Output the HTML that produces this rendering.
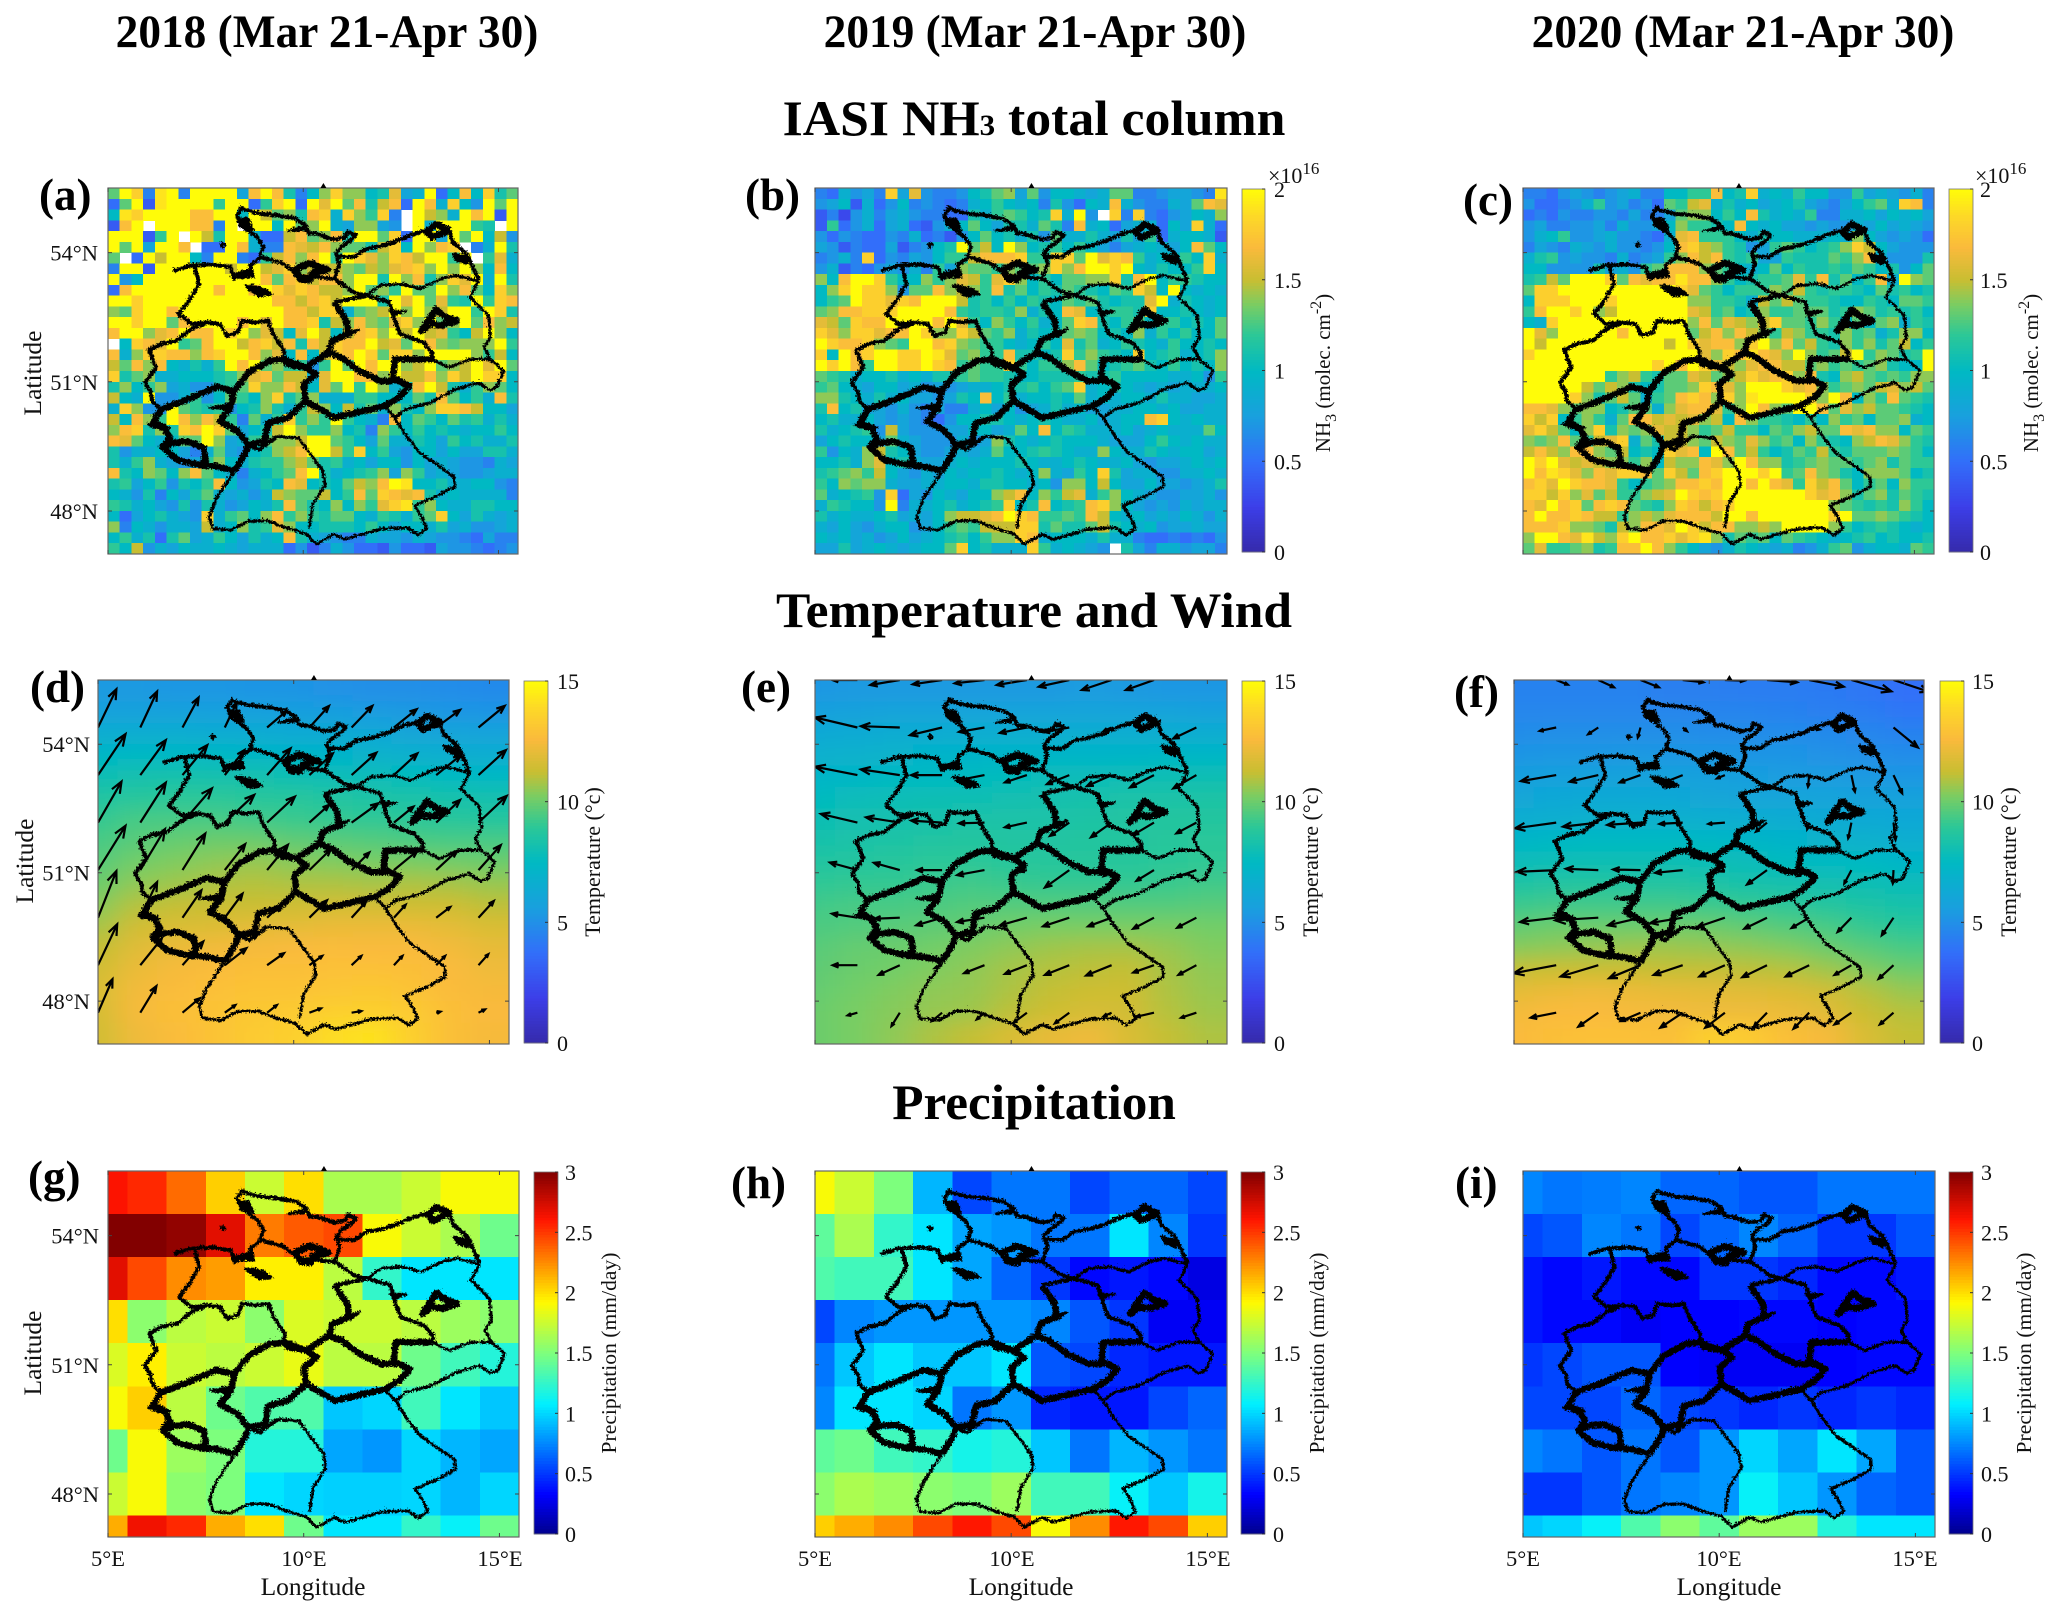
<!DOCTYPE html>
<html lang="en">
<head>
<meta charset="utf-8">
<title>NH3, temperature, wind and precipitation over Germany 2018-2020</title>
<style>
html,body{margin:0;padding:0;background:#fff;}
svg{display:block;}
text{font-family:"Liberation Serif",serif;fill:#111;}
.big{font-weight:bold;fill:#000;}
</style>
</head>
<body>
<svg id="figure" xmlns="http://www.w3.org/2000/svg" width="2067" height="1615" viewBox="0 0 2067 1615">
  <defs>
    <filter id="rough" x="-5%" y="-5%" width="110%" height="110%">
      <feTurbulence type="turbulence" baseFrequency="0.42" numOctaves="1" seed="3" result="t"/>
      <feDisplacementMap in="SourceGraphic" in2="t" scale="5" xChannelSelector="R" yChannelSelector="G"/>
    </filter>
    <filter id="smooth" x="-15%" y="-15%" width="130%" height="130%">
      <feGaussianBlur stdDeviation="14 9"/>
    </filter>
  </defs>
  <rect width="2067" height="1615" fill="#fff"/>
  <text class="big" font-size="47" text-anchor="middle" transform="translate(327,47) scale(0.965,1)">2018 (Mar 21-Apr 30)</text>
  <text class="big" font-size="47" text-anchor="middle" transform="translate(1035,47) scale(0.965,1)">2019 (Mar 21-Apr 30)</text>
  <text class="big" font-size="47" text-anchor="middle" transform="translate(1743,47) scale(0.965,1)">2020 (Mar 21-Apr 30)</text>
  <text class="big" font-size="50" text-anchor="middle" transform="translate(1034,135) scale(1.035,1)">IASI NH<tspan font-size="30">3</tspan> total column</text>
  <text class="big" font-size="50" text-anchor="middle" transform="translate(1034,627) scale(1.03,1)">Temperature and Wind</text>
  <text class="big" font-size="50" text-anchor="middle" transform="translate(1034,1119) scale(1.025,1)">Precipitation</text>
</svg>
<script>
/* ---------- shared tick labels ---------- */
const lonTicks = [5, 10, 15];
const latTicks = [54, 51, 48];
const nh3Ticks = [0, 0.5, 1, 1.5, 2];
const tempTicks = [0, 5, 10, 15];
const precipTicks = [0, 0.5, 1, 1.5, 2, 2.5, 3];

/* ---------- NH3 total column, units of 1e15 molec/cm2 (null = no data) ---------- */
const N = null;
const nh3_2018 = [
[13,20,18,6,19, 20,6,20,20,20, 20,8,17,20,17, 11,6,10,14,18, 14,14,10,11,16, 8,9,20,5,10, 17,10,18,11,13],
[5,13,20,4,19, 20,20,20,20,12, 20,20,5,12,18, 20,5,20,16,20, 13,17,11,15,17, 5,20,17,9,18, 10,7,20,13,20],
[10,19,18,20,20, 20,20,17,17,20, 20,10,20,15,13, 14,11,17,18,9, 18,14,12,18,6, N,20,15,14,9, 20,17,20,4,20],
[4,17,20,N,20, 20,20,17,17,6, 20,N,20,20,10, 20,13,14,20,9, 8,14,14,8,7, N,20,9,20,20, 20,12,11,N,20],
[20,20,20,4,12, 20,N,20,15,11, 20,20,9,5,5, 15,17,13,14,17, 11,20,20,13,18, 5,20,20,8,20, 13,20,10,15,7],
[20,13,20,8,20, 20,17,N,5,5, 20,17,9,6,6, 17,16,15,17,14, 13,13,11,15,18, 10,20,14,17,18, N,6,9,20,11],
[13,N,5,20,15, 20,20,10,6,20, 20,6,5,12,15, 17,14,17,20,12, 20,18,16,14,18, 17,15,20,20,12, 20,N,12,16,9],
[6,20,20,4,20, 20,20,20,20,20, 15,20,20,15,16, 18,14,15,15,15, 14,13,15,14,16, 17,18,14,20,14, 20,14,10,17,10],
[20,7,10,20,20, 20,20,20,20,20, 20,20,20,17,13, 17,18,15,17,17, 14,20,20,11,20, 14,17,11,14,18, 16,20,9,20,11],
[5,17,20,20,20, 20,20,20,20,17, 20,20,17,20,18, 16,18,17,15,15, 14,20,13,14,12, 20,13,13,20,14, 17,13,10,18,14],
[20,20,18,20,20, 20,20,20,20,20, 20,20,20,20,17, 17,15,17,18,15, 20,20,20,11,20, 16,20,13,16,12, 11,20,12,18,17],
[14,13,18,20,20, 17,20,20,20,20, 20,20,20,20,20, 17,17,15,18,18, 9,13,14,15,20, 14,20,14,15,20, 20,12,20,18,11],
[20,20,18,20,20, 13,17,20,20,20, 20,17,20,16,20, 17,17,18,11,15, 14,17,14,13,16, 18,14,20,13,14, 20,13,17,14,15],
[17,20,20,14,16, 17,20,17,17,20, 18,20,14,16,15, 10,16,20,15,10, 15,17,18,14,20, 15,20,15,16,12, 10,15,20,14,10],
[N,10,18,17,16, 20,12,13,17,20, 20,15,17,18,15, 17,11,17,15,18, 17,17,20,15,16, 13,20,17,14,13, 14,14,14,20,12],
[17,9,14,18,18, 17,17,14,17,18, 20,20,17,14,16, 10,17,10,15,18, 17,20,18,13,18, 18,14,20,20,20, 20,14,12,15,10],
[15,13,17,14,17, 10,9,11,9,12, 20,17,20,13,14, 12,12,7,12,20, 13,20,17,20,20, 14,15,20,13,14, 15,20,16,20,13],
[18,11,13,14,9, 9,10,10,10,11, 12,14,16,17,13, 15,15,9,16,20, 20,17,17,14,20, 15,15,17,14,18, 15,20,18,18,10],
[11,14,10,12,14, 8,9,7,7,11, 12,13,18,14,14, 17,15,10,16,13, 20,12,20,14,9, 11,17,20,15,11, 9,12,14,13,10],
[15,10,9,20,7, 7,9,12,7,10, 13,12,10,14,18, 11,13,14,9,9, 9,12,12,10,10, 10,13,11,17,13, 10,12,9,17,11],
[9,18,14,7,7, 20,13,12,11,12, 7,10,11,14,11, 9,12,15,14,10, 15,11,13,9,14, 11,10,14,18,18, 17,15,10,10,8],
[15,10,17,14,12, 20,17,14,17,15, 12,6,13,9,12, 18,12,14,12,20, 12,10,9,6,17, 10,13,12,10,13, 11,12,9,11,9],
[14,17,18,11,14, 11,18,17,20,18, 13,8,10,11,15, 20,14,12,12,14, 10,11,6,14,12, 10,12,10,11,10, 9,10,10,12,10],
[17,16,13,10,9, 10,13,13,20,14, 8,9,12,13,14, 14,15,20,20,13, 12,10,8,13,9, 9,11,10,8,12, 10,11,9,9,11],
[11,7,9,9,10, 10,8,6,9,13, 8,7,10,11,14, 15,17,20,20,15, 12,18,10,12,8, 7,10,10,8,10, 8,8,11,11,9],
[11,9,12,14,9, 8,7,8,12,14, 10,9,11,12,12, 14,15,13,11,12, 9,10,8,10,10, 7,10,8,9,8, 7,7,6,9,8],
[17,11,10,14,13, 10,14,17,13,10, 9,6,9,10,12, 13,17,20,11,9, 10,11,12,14,8, 14,12,8,9,8, 7,7,8,9,9],
[11,12,8,10,12, 7,11,10,12,17, 10,7,8,11,10, 17,16,10,11,10, 13,15,14,17,20, 19,10,10,11,9, 9,10,10,7,6],
[10,9,7,11,6, 10,8,11,13,9, 8,9,7,9,15, 14,13,13,15,10, 12,17,13,18,17, 16,17,11,9,10, 9,9,9,9,6],
[12,11,9,10,8, 7,11,7,11,9, 7,8,10,9,11, 17,13,11,10,14, 10,14,12,16,18, 19,12,14,10,9, 9,11,11,10,10],
[10,5,8,10,11, 9,8,7,18,9, 12,13,10,14,17, 12,14,12,11,13, 13,10,9,12,11, 9,12,13,18,10, 8,11,9,8,9],
[14,6,10,9,7, 9,9,8,15,9, 10,14,11,12,16, 14,10,10,11,11, 11,10,12,10,8, 10,10,9,11,8, 9,7,7,8,9],
[10,12,9,11,5, 11,13,8,9,12, 10,8,11,9,10, 17,11,9,8,7, 6,6,9,8,8, 7,9,8,7,7, 6,5,8,6,6],
[12,10,15,7,9, 8,10,9,9,10, 9,8,9,9,9, 5,7,4,6,9, 7,5,5,4,7, 5,5,4,8,7, 7,6,5,6,7]
];
const nh3_2019 = [
[6,5,9,7,8, 6,18,8,16,7, 6,6,7,10,11, 13,14,8,13,7, 10,10,9,8,9, 13,13,6,6,7, 8,8,7,6,19],
[7,8,10,4,9, 5,7,10,6,7, 6,5,6,9,10, 12,10,9,10,6, 11,7,5,10,9, 17,9,7,6,6, 9,8,13,17,16],
[4,6,3,7,9, 6,8,9,7,6, 6,5,5,11,9, 12,13,12,10,11, 18,9,20,7,N, 18,6,18,6,5, 7,8,10,9,14],
[4,12,5,7,9, 5,8,9,5,4, 7,9,10,13,10, 8,11,11,9,13, 11,6,17,9,10, 5,8,9,9,5, 10,8,18,9,5],
[7,5,7,6,5, 5,7,6,9,5, 6,4,7,10,13, 10,11,9,11,7, 13,9,9,11,9, 8,11,8,12,5, 9,10,10,9,4],
[8,7,4,6,5, 5,8,4,6,7, 10,11,20,13,15, 10,20,14,10,11, 12,10,12,10,8, 6,8,9,10,9, 8,10,17,13,10],
[6,7,9,6,18, 5,7,6,8,7, 10,12,12,15,17, 17,17,18,12,12, 18,18,13,20,16, 18,17,12,9,10, 10,12,10,18,9],
[7,9,4,6,5, 7,8,7,9,6, 12,8,14,13,13, 12,14,13,13,14, 18,14,17,20,20, 18,20,10,9,11, 10,10,12,18,10],
[14,10,17,20,20, 18,12,10,10,14, 12,14,16,15,12, 16,18,14,10,12, 10,13,13,14,14, 18,11,17,20,10, 12,12,11,10,10],
[10,14,18,20,18, 18,14,7,13,13, 17,14,15,14,12, 17,11,13,10,12, 11,13,12,11,10, 13,12,18,15,10, 20,10,9,10,9],
[10,12,13,20,18, 18,16,18,17,20, 20,20,15,11,12, 10,12,10,12,11, 10,13,12,13,11, 10,11,11,16,20, 9,11,10,9,10],
[13,14,17,17,18, 18,18,20,20,20, 20,17,12,11,12, 12,11,14,9,11, 10,17,16,10,11, 12,12,11,18,10, 10,11,10,9,10],
[16,15,13,18,17, 17,20,20,20,20, 17,20,16,12,10, 14,12,10,12,9, 10,13,18,17,11, 10,12,13,10,12, 12,10,11,10,13],
[18,16,14,18,18, 16,17,17,20,18, 14,14,18,15,13, 12,14,9,11,10, 11,13,14,13,10, 11,10,14,9,12, 10,12,10,10,13],
[20,18,17,17,18, 14,13,12,20,20, 17,18,14,13,12, 12,10,9,10,12, 10,16,11,13,9, 10,12,11,10,9, 12,10,10,11,10],
[18,10,20,17,18, 20,20,18,18,20, 19,16,13,14,12, 12,17,11,11,10, 11,18,12,14,12, 11,10,18,10,11, 12,9,10,11,14],
[20,18,20,17,12, 20,20,18,18,20, 18,17,12,13,12, 12,18,12,10,12, 12,14,17,13,10, 11,12,13,11,10, 12,10,11,10,14],
[13,12,11,9,10, 10,11,9,10,9, 11,11,12,13,12, 12,11,10,10,11, 11,11,12,11,11, 12,10,10,10,10, 9,9,10,7,12],
[12,13,10,9,8, 10,10,8,9,7, 8,7,8,9,9, 10,11,11,12,10, 12,13,18,9,10, 11,10,9,8,9, 8,9,9,9,10],
[14,14,11,10,9, 11,9,10,8,8, 7,8,11,10,17, 10,12,9,10,10, 11,10,13,9,10, 9,10,10,9,11, 9,9,8,8,9],
[11,17,10,11,8, 8,7,9,7,6, 8,6,6,9,10, 8,10,7,8,9, 11,9,10,8,8, 9,9,10,10,9, 10,8,8,9,9],
[10,11,9,9,10, 8,7,8,7,6, 5,7,10,10,11, 11,10,9,10,11, 10,9,9,10,8, 9,10,10,17,18, 10,9,10,9,9],
[11,9,10,11,12, 7,15,8,7,7, 7,8,8,10,10, 8,9,13,10,17, 10,12,11,9,9, 9,10,8,9,10, 9,9,9,13,10],
[8,10,11,10,10, 8,13,9,8,7, 7,7,9,7,8, 14,11,10,9,10, 11,10,10,10,9, 8,8,8,10,12, 10,9,10,9,9],
[12,7,10,9,14, 15,11,10,8,7, 7,8,9,8,9, 13,10,10,11,12, 11,10,9,9,14, 10,9,9,11,10, 9,10,10,8,9],
[10,10,11,9,14, 16,10,11,9,8, 8,9,10,9,10, 10,10,11,10,9, 9,10,11,10,9, 9,10,8,7,8, 8,9,10,9,10],
[11,12,13,14,12, 15,10,8,7,9, 8,10,9,10,10, 11,10,9,10,14, 9,8,12,10,18, 11,8,9,9,7, 7,9,9,10,9],
[12,10,14,13,14, 14,9,8,8,9, 9,10,10,9,11, 11,10,10,9,10, 7,14,14,10,15, 10,8,8,10,8, 8,7,8,9,11],
[13,9,10,11,12, 7,18,5,8,7, 10,9,8,10,10, 14,15,17,10,14, 12,15,16,9,12, 14,10,9,8,7, 7,8,8,9,7],
[9,12,11,10,10, 7,20,6,9,9, 10,11,9,10,11, 12,18,10,11,17, 10,11,12,17,18, 14,10,8,7,8, 7,9,8,9,9],
[11,9,10,9,9, 10,11,8,9,8, 10,14,15,15,16, 17,20,18,17,12, 12,13,12,17,15, 10,9,10,8,9, 8,10,9,7,9],
[9,8,10,8,7, 9,10,10,7,8, 10,12,13,12,15, 15,15,18,18,11, 13,11,11,13,15, 11,10,9,10,7, 8,8,9,8,8],
[10,9,10,8,9, 7,8,10,8,9, 10,11,12,10,12, 14,14,18,17,9, 10,10,10,9,11, 9,9,6,5,5, 6,5,6,5,7],
[8,8,11,8,9, 10,9,8,9,10, 10,13,18,10,11, 9,9,9,18,12, 9,10,9,8,7, N,11,8,6,9, 9,7,8,8,6]
];
const nh3_2020 = [
[6,6,5,7,8, 7,6,7,8,9, 6,6,10,10,12, 12,17,10,11,18, 9,10,9,12,10, 10,7,7,12,8, 9,8,7,9,6],
[7,5,5,6,7, 9,12,7,8,6, 7,5,13,12,15, 16,9,11,9,10, 8,9,10,11,8, 7,6,8,10,12, 13,9,18,17,6],
[5,6,5,7,6, 6,7,7,6,8, 6,6,8,13,14, 14,10,12,10,17, 11,9,10,9,12, 6,6,9,9,10, 8,10,9,10,8],
[7,8,6,6,7, 7,8,6,9,7, 7,8,10,14,12, 12,11,10,17,10, 9,10,8,8,7, 8,7,7,9,8, 10,8,9,8,7],
[7,9,10,12,7, 7,8,9,7,7, 6,5,9,16,17, 12,12,12,10,9, 11,10,10,9,9, 9,10,9,14,10, 8,7,8,7,5],
[6,8,7,6,9, 8,7,9,7,7, 6,7,10,17,18, 15,14,12,11,7, 8,12,13,12,10, 11,12,14,18,15, 10,8,7,7,7],
[9,11,12,7,8, 7,7,6,9,6, 7,8,12,14,17, 15,17,12,11,12, 8,8,12,11,11, 11,13,12,14,17, 9,7,7,7,11],
[10,10,7,7,7, 7,11,8,9,7, 12,13,17,17,17, 14,13,12,10,9, 10,13,10,12,11, 11,12,11,13,12, 10,11,7,10,13],
[11,12,15,13,20, 20,20,18,13,17, 16,17,17,19,17, 17,14,12,10,11, 12,12,13,16,12, 17,11,13,10,12, 17,9,20,14,13],
[13,18,18,20,20, 20,20,20,20,20, 20,20,20,18,16, 13,12,10,12,12, 12,14,13,15,12, 11,12,12,11,10, 13,11,12,10,11],
[10,18,18,18,20, 20,20,18,20,20, 20,20,20,20,14, 14,12,12,11,9, 15,13,15,13,12, 12,11,10,10,12, 11,10,13,13,12],
[12,17,20,20,18, 20,14,15,20,20, 20,20,20,20,16, 15,12,13,10,11, 14,12,12,13,13, 13,11,12,14,13, 11,12,11,12,10],
[10,9,18,20,20, 20,20,20,20,20, 20,20,20,20,14, 17,13,16,15,14, 15,18,13,13,12, 14,12,10,13,10, 13,14,9,12,11],
[20,16,14,20,20, 20,20,20,17,20, 20,20,20,20,13, 15,17,14,17,15, 14,12,15,14,12, 12,11,14,12,13, 9,11,14,14,10],
[20,15,20,20,20, 20,20,20,20,20, 20,20,15,20,18, 16,17,17,14,18, 20,14,17,13,15, 12,11,14,12,14, 11,13,15,10,12],
[18,20,20,20,20, 20,20,20,20,20, 20,20,20,20,20, 16,14,18,17,19, 17,16,14,20,14, 12,13,15,20,12, 14,13,11,12,20],
[20,20,20,20,20, 20,20,20,20,20, 20,18,20,17,20, 18,16,15,14,16, 17,17,15,15,13, 14,12,13,12,13, 14,11,10,10,20],
[20,20,20,20,20, 20,20,12,14,15, 12,11,13,13,16, 15,13,14,15,18, 16,17,18,14,17, 11,10,14,15,13, 12,13,12,14,14],
[20,20,20,20,20, 15,13,15,14,11, 10,11,13,13,14, 18,17,16,14,20, 20,20,18,16,17, 14,12,13,14,13, 15,16,14,15,13],
[20,20,20,20,18, 14,11,13,15,13, 9,12,13,17,18, 17,14,18,14,19, 20,20,20,20,18, 14,20,17,10,14, 12,17,13,12,11],
[17,17,16,14,13, 14,14,10,11,13, 13,9,14,16,17, 17,16,12,14,20, 17,14,13,20,20, 17,13,16,14,15, 13,13,12,11,10],
[18,15,18,10,12, 14,12,9,13,17, 17,15,16,15,16, 14,15,10,17,14, 12,12,11,10,12, 10,14,12,13,10, 13,13,14,9,10],
[16,18,15,13,10, 14,18,11,14,13, 14,16,15,15,14, 12,13,15,12,12, 10,13,12,14,15, 13,13,17,16,17, 14,14,10,13,12],
[14,13,14,17,13, 12,15,16,18,9, 13,11,15,15,14, 13,15,14,13,16, 14,12,13,10,14, 12,11,10,14,15, 17,16,14,12,11],
[15,17,15,14,17, 17,14,13,15,10, 11,10,18,16,17, 10,20,17,13,15, 12,10,11,13,12, 15,12,11,13,13, 13,14,13,12,10],
[20,18,20,16,15, 16,15,14,14,12, 14,10,15,14,14, 17,16,14,20,17, 14,14,11,12,13, 14,13,13,12,13, 14,11,13,12,12],
[20,17,19,18,16, 14,17,16,18,18, 17,13,18,15,13, 17,18,20,20,20, 18,20,12,13,17, 14,13,11,10,14, 14,14,13,10,11],
[17,18,16,20,18, 17,17,16,12,10, 12,13,14,17,17, 18,17,20,20,17, 20,17,16,12,18, 15,17,13,10,12, 13,10,14,12,12],
[18,18,15,18,14, 16,13,15,12,12, 14,15,16,20,18, 17,18,20,20,20, 20,20,20,20,18, 16,17,14,11,13, 14,11,13,12,11],
[17,16,20,17,18, 13,17,18,17,13, 12,11,14,18,17, 15,17,18,20,20, 20,20,20,20,20, 20,14,13,12,11, 12,11,14,12,10],
[17,20,17,17,18, 17,15,15,12,14, 15,14,16,17,17, 17,15,20,20,17, 20,20,20,20,20, 20,18,20,13,13, 14,13,12,11,10],
[17,17,17,18,14, 14,13,11,15,14, 17,17,16,20,18, 15,17,17,14,14, 15,14,20,20,20, 20,14,12,10,11, 12,11,10,9,10],
[14,20,20,17,16, 19,15,14,18,20, 17,17,18,16,18, 19,14,11,13,12, 13,10,13,12,11, 10,9,10,11,12, 10,11,10,10,11],
[13,16,12,12,13, 14,11,12,17,17, 20,17,14,12,10, 8,7,9,11,10, 9,8,9,6,7, 9,12,13,7,9, 10,10,9,13,12]
];

/* ---------- temperature, deg C: rows N to S, columns W to E ---------- */
const temp_2018 = [
[5.4,5.4,5.3,5.3,5.2,5.2,5.1,5.0,5.0,4.9,4.8],
[5.8,5.8,5.8,5.7,5.7,5.6,5.6,5.5,5.4,5.3,5.2],
[6.6,6.6,6.6,6.5,6.5,6.4,6.4,6.2,6.1,6.0,5.9],
[7.3,7.4,7.4,7.4,7.3,7.2,7.1,7.0,6.8,6.7,6.6],
[8.0,8.2,8.3,8.2,8.2,8.0,7.9,7.8,7.7,7.5,7.4],
[8.6,8.8,8.9,8.9,8.8,8.8,8.6,8.5,8.4,8.3,8.2],
[9.1,9.4,9.4,9.4,9.3,9.2,9.1,9.0,8.9,8.8,8.7],
[9.4,9.7,9.9,10.0,10.0,9.8,9.7,9.6,9.5,9.4,9.4],
[9.7,10.1,10.3,10.5,10.6,10.4,10.3,10.2,10.2,10.1,10.0],
[10.0,10.5,10.7,10.9,11.0,10.9,10.9,10.8,10.9,10.8,10.6],
[10.4,11.0,11.2,11.3,11.3,11.4,11.5,11.5,11.4,11.4,11.1],
[10.8,11.5,11.7,11.8,12.0,12.0,12.2,12.2,12.2,12.0,11.7],
[11.2,11.9,12.2,12.4,12.5,12.6,12.7,12.6,12.6,12.4,12.1],
[11.5,12.2,12.5,12.7,12.8,12.8,12.9,12.9,12.8,12.6,12.3],
[11.7,12.4,12.7,12.9,13.0,13.0,13.1,13.2,13.0,12.7,12.5],
[11.6,12.5,12.8,13.0,13.2,13.3,13.5,13.5,13.3,12.8,12.6],
[11.5,12.3,12.7,13.0,13.3,13.5,14.0,14.2,13.5,12.8,12.5]
];
const temp_2019 = [
[5.3,5.4,5.4,5.4,5.4,5.4,5.4,5.5,5.4,5.3,5.3],
[5.7,5.8,5.9,5.9,5.9,5.9,5.9,5.9,5.9,5.9,5.8],
[6.3,6.4,6.5,6.5,6.6,6.6,6.6,6.6,6.6,6.6,6.6],
[6.8,6.9,7.0,7.1,7.1,7.2,7.2,7.2,7.2,7.3,7.3],
[7.2,7.3,7.5,7.5,7.6,7.7,7.8,7.8,7.9,8.0,8.0],
[7.6,7.8,7.9,8.0,8.0,8.1,8.2,8.3,8.4,8.4,8.5],
[8.0,8.1,8.2,8.3,8.4,8.4,8.4,8.5,8.6,8.7,8.7],
[8.3,8.4,8.5,8.6,8.7,8.6,8.6,8.7,8.7,8.8,8.9],
[8.6,8.7,8.8,8.9,8.9,8.8,8.8,8.8,8.8,8.9,9.0],
[9.0,9.1,9.1,9.2,9.3,9.2,9.1,9.1,9.1,9.2,9.3],
[9.3,9.4,9.4,9.5,9.6,9.6,9.6,9.6,9.6,9.6,9.7],
[9.5,9.6,9.7,9.8,9.9,10.1,10.2,10.2,10.2,10.2,10.1],
[9.7,9.9,10.0,10.1,10.3,10.5,10.7,10.8,10.8,10.6,10.3],
[9.8,10.0,10.1,10.3,10.5,10.8,11.0,11.1,11.2,10.8,10.5],
[9.9,10.1,10.3,10.5,10.6,10.9,11.2,11.4,11.4,10.9,10.6],
[10.0,10.2,10.4,10.6,10.7,11.1,11.4,11.6,11.5,11.0,10.7],
[10.0,10.2,10.5,10.9,11.2,11.7,12.1,12.3,11.7,11.2,10.9]
];
const temp_2020 = [
[4.5,4.5,4.5,4.5,4.4,4.4,4.3,4.3,4.2,4.1,3.8],
[4.7,4.7,4.7,4.7,4.7,4.6,4.6,4.5,4.4,4.3,4.1],
[4.9,5.0,5.0,5.0,5.0,4.9,4.9,4.9,4.8,4.7,4.5],
[5.2,5.3,5.3,5.4,5.3,5.3,5.2,5.2,5.1,5.0,4.9],
[5.6,5.7,5.8,5.8,5.8,5.7,5.6,5.5,5.5,5.4,5.3],
[6.1,6.2,6.3,6.3,6.2,6.1,6.0,6.0,5.9,5.8,5.8],
[6.6,6.7,6.8,6.8,6.8,6.7,6.6,6.5,6.4,6.3,6.2],
[7.2,7.4,7.5,7.5,7.5,7.4,7.3,7.1,7.0,6.9,6.7],
[7.8,7.9,8.0,8.0,8.0,7.9,7.8,7.6,7.5,7.5,7.2],
[8.5,8.6,8.7,8.6,8.6,8.5,8.3,8.2,8.1,8.0,7.8],
[9.2,9.3,9.3,9.3,9.3,9.2,9.1,8.9,8.7,8.5,8.3],
[9.8,10.0,10.0,10.0,10.0,10.0,9.8,9.6,9.4,9.1,8.8],
[10.4,10.5,10.6,10.7,10.7,10.6,10.5,10.3,10.0,9.7,9.4],
[11.2,11.3,11.3,11.3,11.2,11.2,11.1,11.0,10.7,10.3,10.0],
[12.0,12.2,12.3,12.2,12.1,12.0,11.9,11.8,11.5,11.0,10.6],
[12.4,12.6,12.6,12.5,12.4,12.3,12.3,12.2,11.9,11.3,11.0],
[12.6,12.8,12.9,12.9,12.8,13.5,13.3,12.8,12.5,11.7,11.2]
];

/* ---------- wind components (arbitrary quiver units): rows N to S, columns W to E ---------- */
const windU_2018 = [
[0,0,0,0,0,0,0,0,0,0],
[47,43,41,30,50,50,53,58,61,67],
[70,65,63,50,60,60,63,60,63,70],
[60,65,75,75,71,50,68,50,61,72],
[70,63,58,52,53,55,45,60,53,57],
[47,43,48,45,33,45,36,30,36,39],
[49,55,53,55,43,33,25,22,23,25],
[37,41,43,27,25,30,25,0,11,17]
];
const windV_2018 = [
[0,0,0,0,0,0,0,0,0,0],
[115,108,90,75,50,65,65,55,53,65],
[123,105,90,75,80,65,67,65,60,75],
[123,120,103,83,78,53,58,48,68,80],
[133,123,110,78,76,63,53,58,58,75],
[140,107,82,72,37,52,47,39,32,50],
[123,80,71,51,36,28,28,28,28,33],
[101,80,43,23,23,13,5,0,3,10]
];
const windU_2019 = [
[0,-64,-75,-75,-76,-77,-78,-76,-72,0],
[0,-108,-99,-82,-65,-69,-65,-20,0,-59],
[0,-108,-99,-79,-65,-56,-57,-63,-61,-59],
[0,-93,-86,-79,-65,-56,-49,-53,-53,-51],
[0,-70,-66,-64,-70,-15,-62,-20,-45,-49],
[0,-65,-64,-66,-70,-68,-67,-60,-53,-49],
[0,-63,-54,-19,-52,-56,-62,-65,-53,-46],
[0,-25,-21,-26,-20,-34,-37,-20,-45,-39]
];
const windV_2019 = [
[0,0,-15,-13,-10,-15,-20,-30,-30,0],
[0,30,4,-23,-13,-16,-13,-10,0,-33],
[0,25,17,0,-15,-22,-27,-33,-37,-40],
[0,26,16,6,-2,-14,-40,-44,-37,-32],
[0,23,22,0,-15,-5,-52,-18,-32,-20],
[0,12,-3,-23,-13,-23,-26,-26,-33,-30],
[0,0,-29,-9,-24,-26,-29,-31,-22,-29],
[0,-8,-40,-25,-20,-30,-32,-10,-12,-15]
];
const windU_2020 = [
[0,30,40,47,53,50,77,88,102,90],
[0,-42,-26,-7,11,0,0,27,0,62],
[0,-90,-73,-53,-42,-20,0,-3,9,22],
[0,-105,-90,-85,-59,-42,-28,-5,-8,5],
[0,-100,-83,-70,-70,-10,-51,-30,-18,-2],
[0,-92,-110,-83,-82,-70,-58,-45,-35,-30],
[0,-108,-96,-80,-74,-65,-63,-60,-43,-38],
[0,-65,-51,-50,-57,-50,-33,-40,-43,-35]
];
const windV_2020 = [
[0,-14,-22,-22,-7,-2,-7,-20,-34,-35],
[0,-10,-20,-30,-11,0,0,-6,0,-60],
[0,-18,-20,-22,-20,-10,0,-35,-50,-55],
[0,-17,-12,-7,-4,-4,-27,-20,-47,-52],
[0,-5,4,2,-8,-4,-43,-18,-40,-40],
[0,-13,-8,-23,-16,-28,-33,-31,-43,-53],
[0,-24,-34,-39,-29,-34,-36,-34,-29,-41],
[0,-15,-42,-25,-45,-45,-40,-48,-35,-35]
];
const windLons = [5,6.08,7.16,8.24,9.32,10.4,11.48,12.56,13.64,14.72];
const windLats = [55.5,54.39,53.28,52.17,51.06,49.95,48.84,47.73];

/* ---------- precipitation, mm/day: rows N to S, columns W to E ---------- */
const precip_2018 = [
[2.62,2.55,2.35,2.05,1.75,2.0,1.65,1.65,1.75,1.9,1.9],
[3,3,2.95,2.7,2.3,2.4,2.45,1.9,1.75,1.65,1.45],
[2.7,2.45,2.25,2.2,1.95,1.95,1.7,1.25,1.05,1.05,1.05],
[2.0,1.55,1.7,1.75,1.55,1.8,1.75,1.75,1.7,1.6,1.55],
[1.8,1.95,1.75,1.7,1.75,1.85,1.7,1.7,1.45,1.3,1.2],
[1.9,2.05,1.7,1.45,1.35,1.35,0.95,1.0,1.3,1.05,0.95],
[1.45,1.9,1.6,1.5,1.2,1.2,0.85,0.8,1.0,0.9,0.85],
[1.75,1.9,1.55,1.5,1.05,1.0,0.98,0.98,1.0,0.9,1.0],
[2.15,2.65,2.55,2.15,2.0,1.45,1.05,1.05,1.25,1.1,1.45]
];
const precip_2019 = [
[1.9,1.75,1.5,0.9,0.55,0.7,0.7,0.55,0.65,0.65,0.55],
[1.4,1.65,1.25,1.05,0.85,0.8,0.7,0.7,1.05,0.75,0.5],
[1.35,1.3,1.3,1.05,0.85,0.65,0.5,0.35,0.4,0.35,0.25],
[0.55,0.75,0.8,0.8,0.8,0.8,0.75,0.6,0.5,0.3,0.3],
[0.7,0.95,1.05,0.95,0.95,1.05,0.6,0.55,0.45,0.4,0.4],
[0.75,1.05,1.05,1.0,0.7,0.8,0.45,0.4,0.4,0.55,0.65],
[1.4,1.45,1.3,1.25,1.15,1.2,0.95,0.7,0.9,0.8,0.7],
[1.55,1.65,1.6,1.55,1.5,1.6,1.3,1.3,1.1,0.95,1.15],
[2.05,2.15,2.25,2.45,2.6,2.45,1.9,2.25,2.6,2.45,2.05]
];
const precip_2020 = [
[0.75,0.7,0.72,0.75,0.65,0.65,0.6,0.6,0.7,0.7,0.7],
[0.55,0.6,0.75,0.7,0.55,0.65,0.75,0.65,0.5,0.5,0.6],
[0.4,0.35,0.4,0.35,0.35,0.5,0.5,0.45,0.35,0.35,0.4],
[0.4,0.35,0.35,0.3,0.33,0.33,0.35,0.35,0.33,0.35,0.35],
[0.5,0.55,0.6,0.6,0.33,0.3,0.3,0.3,0.33,0.35,0.35],
[0.55,0.55,0.55,0.65,0.55,0.5,0.45,0.5,0.45,0.5,0.45],
[0.75,0.7,0.6,0.7,0.6,0.8,1.0,0.85,1.05,0.85,0.6],
[0.5,0.5,0.6,0.7,0.75,0.8,1.1,0.95,0.8,0.65,0.6],
[0.95,1.0,1.1,1.35,1.55,1.4,1.6,1.6,1.2,1.05,1.05]
];

/* ---------- base map: state borders digitised on a map sheet, converted to lon/lat by sheetLon/sheetLat ---------- */
const bordersThin = [
 [[1335,390],[1322,420],[1310,440],[1335,465],[1362,495],[1368,560],[1350,590],[1368,625],[1405,660],[1385,710],[1365,718],[1335,695],[1270,715],[1200,755],[1130,775],[1100,800]],
 [[1075,770],[1100,800],[1130,850],[1170,905],[1225,945],[1265,975],[1268,1005],[1215,1035],[1155,1062],[1175,1095],[1190,1130],[1165,1150],[1135,1128],[1060,1132],[960,1162],[930,1148],[880,1177],[850,1145],[800,1130],[745,1108],[690,1108],[640,1135],[590,1130],[580,1095],[600,1040],[650,962]],
 [[770,855],[830,860],[865,910],[900,960],[905,1000],[870,1060],[860,1130]],
 [[1020,435],[1060,405],[1120,400],[1170,415],[1230,385],[1270,375],[1335,392]],
 [[1205,625],[1250,650],[1310,625],[1368,625]]
];
const bordersMedium = [
 [[675,178],[720,190],[770,195],[820,205],[850,225],[860,250],[880,250],[930,268],[960,262],[968,245],[990,255],[975,272],[950,290],[935,310],[945,340],[930,385]],
 [[935,318],[985,320],[1020,295],[1060,288],[1100,275],[1150,252],[1190,240],[1215,220],[1250,238],[1262,275],[1300,310],[1318,350],[1335,390]],
 [[480,362],[530,345],[590,342],[640,350],[650,385],[670,375],[700,375],[695,345],[725,320],[790,340],[830,375],[930,385],[985,425],[1020,435]],
 [[540,350],[552,400],[525,450],[495,490],[530,520],[575,515],[610,520],[630,555],[660,545],[672,510],[710,515],[745,510],[760,550],[790,600],[790,628]],
 [[575,515],[530,535],[490,570],[450,578],[412,598],[432,650],[400,695],[418,725],[420,750],[445,775]],
 [[930,455],[1020,435],[1085,455],[1100,510],[1115,550],[1180,575],[1205,605],[1205,630]],
 [[690,880],[720,895],[770,855]],
 [[675,168],[658,195],[668,225],[690,240],[715,262],[732,290],[722,318]]
];
const bordersThick = [
 [[445,775],[520,745],[600,708],[650,720],[690,665],[750,630],[790,625],[850,650],[915,605],[925,570],[970,550],[965,510],[930,455]],
 [[790,625],[800,640],[850,650],[880,670],[845,700],[850,750],[900,780],[930,800],[990,785],[1070,765],[1110,740],[1140,705],[1095,680],[1100,625],[1205,625]],
 [[915,605],[950,620],[1000,660],[1060,690],[1110,690]],
 [[650,720],[640,770],[610,810],[660,840],[690,880],[680,910],[650,960]],
 [[850,750],[800,800],[745,815],[735,870],[690,880]],
 [[445,775],[420,820],[455,830],[470,860],[450,888],[490,925],[550,940],[600,945],[650,958]],
 [[450,888],[480,875],[520,870],[565,890],[570,930],[550,940]]
];
const mapBlobs = [
 [[680,405],[700,405],[735,415],[757,432],[720,438],[695,420]],
 [[820,358],[860,338],[912,358],[870,368],[862,388],[835,385]],
 [[1175,540],[1195,510],[1215,478],[1240,498],[1272,510],[1230,524],[1200,520]],
 [[1262,310],[1310,320],[1302,342],[1272,330]],
 [[665,205],[690,205],[705,240],[680,228]],
 [[612,283],[618,278],[625,285],[618,292]],
 [[1085,480],[1132,482],[1095,497]],
 [[960,545],[1000,535],[975,558]],
 [[580,770],[645,778],[635,758]],
 [[408,820],[470,830],[432,810]],
 [[650,370],[700,355],[705,380],[670,382]],
 [[800,242],[852,226],[845,240]],
 [[1190,245],[1215,222],[1250,240],[1232,250],[1205,262]]
];

/* ---------- colormaps (stop fraction, r, g, b) ---------- */
const parulaStops = [[0,53,42,170],[0.125,60,62,232],[0.25,50,110,250],[0.375,25,160,222],[0.5,0,185,195],[0.6,45,200,150],[0.68,120,205,100],[0.75,200,190,50],[0.84,250,186,60],[0.93,253,218,38],[1,255,252,8]];
const jetStops = [[0,0,0,140],[0.11,0,0,255],[0.36,0,240,255],[0.5,125,255,125],[0.64,255,250,0],[0.87,255,20,0],[1,130,0,0]];

function colorAt(stops, t){
  t = Math.max(0, Math.min(1, t));
  for(let i = 1; i < stops.length; i++){
    if(t <= stops[i][0]){
      const a = stops[i-1], b = stops[i], k = (t - a[0]) / (b[0] - a[0]);
      return 'rgb(' + [1,2,3].map(j => Math.round(a[j] + (b[j]-a[j]) * k)).join(',') + ')';
    }
  }
  return 'rgb(255,252,8)';
}

/* ---------- layout ---------- */
const LON0 = 5, LON1 = 15.5, LAT0 = 47, LAT1 = 55.5;
const row1 = {y0:188, y1:554, cy0:189, cy1:552};
const row2 = {y0:680, y1:1044, cy0:681, cy1:1043};
const row3 = {y0:1171, y1:1537, cy0:1172, cy1:1534};
const panels = [
 {id:'a',kind:'nh3', data:nh3_2018, x0:108,x1:518,...row1, lx:39, ly:210, yTickR:98, latX:32, latY:373},
 {id:'b',kind:'nh3', data:nh3_2019, x0:815,x1:1227,...row1, lx:745,ly:210, cb:[1242,1265], cbText:1274, cbLabel:1323},
 {id:'c',kind:'nh3', data:nh3_2020, x0:1523,x1:1934,...row1, lx:1463,ly:215, cb:[1949,1973], cbText:1980, cbLabel:2031},
 {id:'d',kind:'temp',data:temp_2018,u:windU_2018,v:windV_2018, x0:98,x1:509,...row2, lx:30,ly:702, yTickR:90, latX:24, latY:861, cb:[524,548], cbText:557, cbLabel:593},
 {id:'e',kind:'temp',data:temp_2019,u:windU_2019,v:windV_2019, x0:815,x1:1227,...row2, lx:741,ly:702, cb:[1242,1265], cbText:1274, cbLabel:1311},
 {id:'f',kind:'temp',data:temp_2020,u:windU_2020,v:windV_2020, x0:1514,x1:1924,...row2, lx:1454,ly:707, cb:[1940,1964], cbText:1972, cbLabel:2009},
 {id:'g',kind:'precip',data:precip_2018, x0:108,x1:519,...row3, lx:28,ly:1192, yTickR:99, latX:32, latY:1353, cb:[534,558], cbText:565, cbLabel:609, lonLabel:313, lonTicks:[108,304,500]},
 {id:'h',kind:'precip',data:precip_2019, x0:815,x1:1227,...row3, lx:731,ly:1198, cb:[1241,1265], cbText:1273, cbLabel:1317, lonLabel:1021, lonTicks:[815,1012,1208]},
 {id:'i',kind:'precip',data:precip_2020, x0:1523,x1:1935,...row3, lx:1455,ly:1198, cb:[1949,1973], cbText:1981, cbLabel:2024, lonLabel:1729, lonTicks:[1523,1719,1915]}
];

const svg = document.getElementById('figure');
const NS = 'http://www.w3.org/2000/svg';
function mk(tag, attrs, parent, txt){
  const e = document.createElementNS(NS, tag);
  for(const k in attrs) e.setAttribute(k, attrs[k]);
  if(txt !== undefined) e.textContent = txt;
  (parent || svg).appendChild(e);
  return e;
}
const sheetLon = d => 5 + (d - 302) / 109.3;
const sheetLat = d => 54 - (d - 312) / 128.5;

panels.forEach(p => {
  const xS = lon => p.x0 + (lon - LON0) / (LON1 - LON0) * (p.x1 - p.x0);
  const yS = lat => p.y0 + (LAT1 - lat) / (LAT1 - LAT0) * (p.y1 - p.y0);

  const clip = mk('clipPath', {id:'clip-' + p.id});
  mk('rect', {x:p.x0, y:p.y0, width:p.x1 - p.x0, height:p.y1 - p.y0}, clip);

  const g = mk('g', {'clip-path':'url(#clip-' + p.id + ')'});
  
  

  /* heatmap cells */
  if(p.kind === 'nh3'){
    const lonStep = 0.3, latStep = 0.25;
    p.data.forEach((row, r) => row.forEach((v, c) => {
      if(v === null) return;
      const x = xS(LON0 + c * lonStep), y = yS(LAT1 - r * latStep);
      const cell = mk('rect', {x:x, y:y, width:xS(LON0 + (c + 1) * lonStep) - x + 0.5, height:yS(LAT1 - (r + 1) * latStep) - y + 0.5, fill:colorAt(parulaStops, v / 20), 'shape-rendering':'crispEdges'}, g);
      
      
    }));
  } else if(p.kind === 'temp'){
    const sg = mk('g', {filter:'url(#smooth)'}, g);
    const nR = p.data.length;
    p.data.forEach((row, r) => row.forEach((v, c) => {
      const lon = LON0 + c;
      const latTop = LAT1 - r * 0.5;
      const pad = 40;
      const x = xS(lon - 0.5) - (c === 0 ? pad : 0);
      const xe = xS(lon + 0.5) + (c === row.length - 1 ? pad : 0);
      const y = yS(latTop) - (r === 0 ? pad : 0);
      const ye = yS(latTop - 0.5) + (r === nR - 1 ? pad : 0);
      const cell = mk('rect', {x:x, y:y, width:xe - x + 0.5, height:ye - y + 0.5, fill:colorAt(parulaStops, v / 15)}, sg);
      
      
    }));
  } else {
    p.data.forEach((row, r) => row.forEach((v, c) => {
      const lonA = c === 0 ? 5 : 4.5 + c, lonB = c === 0 ? 5.5 : 5.5 + c;
      const latA = 55.5 - r, latB = Math.max(47, 54.5 - r);
      const cell = mk('rect', {x:xS(lonA), y:yS(latA), width:xS(lonB) - xS(lonA) + 0.5, height:yS(latB) - yS(latA) + 0.5, fill:colorAt(jetStops, v / 3), 'shape-rendering':'crispEdges'}, g);
      
      
    }));
  }

  /* wind arrows */
  if(p.kind === 'temp'){
    const scaleX = 1 / 2.55, scaleY = 1 / 3;
    p.u.forEach((row, r) => row.forEach((u, c) => {
      const v = p.v[r][c];
      if(u === 0 && v === 0) return;
      const x = xS(windLons[c]), y = yS(windLats[r]);
      const hx = x + u * scaleX, hy = y - v * scaleY;
      const len = Math.hypot(hx - x, hy - y);
      const ang = Math.atan2(hy - y, hx - x);
      const b = Math.max(4, Math.min(13, len * 0.26));
      const d = 'M' + x.toFixed(1) + ' ' + y.toFixed(1) + 'L' + hx.toFixed(1) + ' ' + hy.toFixed(1)
        + 'M' + (hx - b * Math.cos(ang - 0.38)).toFixed(1) + ' ' + (hy - b * Math.sin(ang - 0.38)).toFixed(1)
        + 'L' + hx.toFixed(1) + ' ' + hy.toFixed(1)
        + 'L' + (hx - b * Math.cos(ang + 0.38)).toFixed(1) + ' ' + (hy - b * Math.sin(ang + 0.38)).toFixed(1);
      const arrow = mk('path', {d:d, fill:'none', stroke:'#000', 'stroke-width':2.2}, g);
      
      
    }));
  }

  /* state borders */
  const mapG = mk('g', {filter:'url(#rough)', fill:'none', stroke:'#000', 'stroke-linejoin':'round'}, g);
  
  
  const toPts = line => line.map(q => xS(sheetLon(q[0])).toFixed(1) + ',' + yS(sheetLat(q[1])).toFixed(1)).join(' ');
  [[bordersThin, 3], [bordersMedium, 4], [bordersThick, 6.5]].forEach(set => {
    set[0].forEach(line => mk('polyline', {points:toPts(line), 'stroke-width':set[1]}, mapG));
  });
  mapBlobs.forEach((line, i) => {
    const ring = i === 2 || i === 12 || i === 1;
    mk('polygon', {points:toPts(line), fill:ring ? 'none' : '#000', 'stroke-width':ring ? 7 : 2}, mapG);
  });

  /* frame and ticks */
  const frame = mk('rect', {x:p.x0, y:p.y0, width:p.x1 - p.x0, height:p.y1 - p.y0, fill:'none', stroke:'#666', 'stroke-width':1.2});
  
  
  lonTicks.forEach(t => {
    const x = xS(t);
    mk('path', {d:'M' + x + ' ' + p.y0 + 'v4M' + x + ' ' + p.y1 + 'v-4', stroke:'#444', 'stroke-width':1, fill:'none'});
  });
  latTicks.forEach(t => {
    const y = yS(t);
    mk('path', {d:'M' + p.x0 + ' ' + y + 'h4M' + p.x1 + ' ' + y + 'h-4', stroke:'#444', 'stroke-width':1, fill:'none'});
  });

  /* island speck poking above the frame */
  const speck = mk('path', {d:'M' + (xS(sheetLon(905)) - 3) + ' ' + p.y0 + 'l3 -5l3 5z', fill:'#000'});
  
  

  /* panel letter */
  const letter = mk('text', {x:p.lx, y:p.ly, 'font-size':45, 'class':'big'}, svg, '(' + p.id + ')');
  
  

  /* latitude axis text */
  if(p.yTickR){
    latTicks.forEach(t => {
      const lab = mk('text', {x:p.yTickR, y:yS(t) + 8, 'font-size':22.5, 'text-anchor':'end'}, svg, t + '°N');
      
      
    });
    const yT = mk('text', {'font-size':25.5, 'text-anchor':'middle', transform:'translate(' + (p.latX + 9) + ',' + p.latY + ') rotate(-90)'}, svg, 'Latitude');
    
    
  }

  /* longitude axis text */
  if(p.lonTicks){
    lonTicks.forEach((t, i) => {
      const lab = mk('text', {x:p.lonTicks[i], y:1566, 'font-size':22.5, 'text-anchor':'middle'}, svg, t + '°E');
      
      
    });
    const xT = mk('text', {x:p.lonLabel, y:1595, 'font-size':25.5, 'text-anchor':'middle'}, svg, 'Longitude');
    
    
  }

  /* colorbar */
  if(p.cb){
    const cbG = mk('g', {});
    
    
    const stops = p.kind === 'precip' ? jetStops : parulaStops;
    const n = 128, h = (p.cy1 - p.cy0) / n;
    for(let i = 0; i < n; i++){
      mk('rect', {x:p.cb[0], y:p.cy1 - (i + 1) * h, width:p.cb[1] - p.cb[0], height:h + 0.6, fill:colorAt(stops, (i + 0.5) / n), 'shape-rendering':'crispEdges'}, cbG);
    }
    mk('rect', {x:p.cb[0], y:p.cy0, width:p.cb[1] - p.cb[0], height:p.cy1 - p.cy0, fill:'none', stroke:'#777', 'stroke-width':0.8}, cbG);
    const ticks = p.kind === 'nh3' ? nh3Ticks : p.kind === 'temp' ? tempTicks : precipTicks;
    const maxV = ticks[ticks.length - 1];
    ticks.forEach(t => {
      const y = p.cy1 - t / maxV * (p.cy1 - p.cy0);
      mk('path', {d:'M' + (p.cb[1] - 3) + ' ' + y + 'h3', stroke:'#333', 'stroke-width':1}, cbG);
      const lab = mk('text', {x:p.cbText, y:y + 8, 'font-size':22}, svg, String(t));
      
      
    });
    const cy = p.kind === 'nh3' ? 373 : p.kind === 'temp' ? 862 : 1353;
    const titleSize = p.kind === 'nh3' ? 21 : p.kind === 'temp' ? 22 : 21.6;
    const title = mk('text', {'font-size':titleSize, 'text-anchor':'middle', transform:'translate(' + (p.cbLabel + 7) + ',' + cy + ') rotate(-90)'});
    
    
    if(p.kind === 'nh3'){
      mk('tspan', {}, title, 'NH');
      mk('tspan', {'font-size':16, dy:6}, title, '3');
      mk('tspan', {dy:-6}, title, ' (molec. cm');
      mk('tspan', {'font-size':16, dy:-9}, title, '-2');
      mk('tspan', {dy:9}, title, ')');
      const mult = mk('text', {x:p.cb[0] + 26, y:183, 'font-size':22}, svg, '×10');
      
      
      mk('tspan', {'font-size':17, dy:-9}, mult, '16');
    } else if(p.kind === 'temp'){
      title.textContent = 'Temperature (°c)';
    } else {
      title.textContent = 'Precipitation (mm/day)';
    }
  }
});
</script>
</body>
</html>
